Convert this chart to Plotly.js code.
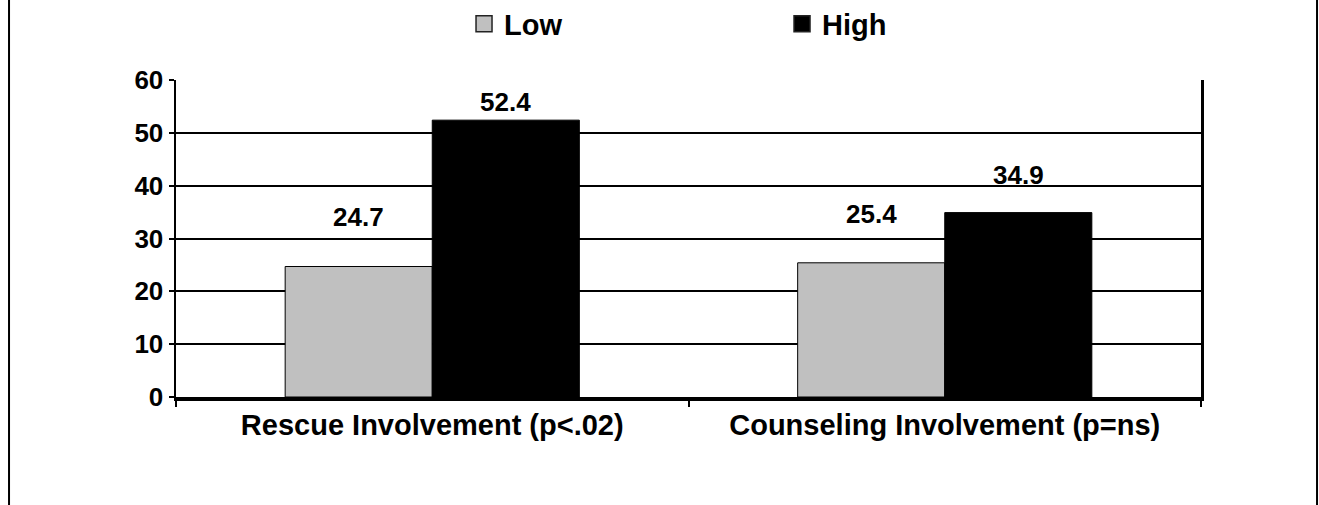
<!DOCTYPE html>
<html>
<head>
<meta charset="utf-8">
<script src="https://cdn.plot.ly/plotly-3.0.1.min.js"></script>
<style>html,body{margin:0;padding:0;background:#fff;}#chart{width:1319px;height:505px;}</style>
</head>
<body>
<div id="chart"></div>
<script>
var categories = ["Rescue Involvement (p<.02)", "Counseling Involvement (p=ns)"];
var seriesNames = ["Low", "High"];
var lowValues = [24.7, 25.4];
var highValues = [52.4, 34.9];
var seriesColors = ["#c0c0c0", "#000000"];
var yTickValues = [0, 10, 20, 30, 40, 50, 60];

var FONT = "Liberation Sans, Arial, Helvetica, sans-serif";
var BARGAP = 0.426;
var allSeries = [lowValues, highValues];

var traces = [];
allSeries.forEach(function (vals, i) {
  traces.push({type: "bar", name: seriesNames[i], x: categories, y: vals,
    marker: {color: seriesColors[i], line: {color: "#000", width: 1}},
    showlegend: false, legendgroup: seriesNames[i], hoverinfo: "skip"});
});
// legend keys (no plotted points)
allSeries.forEach(function (vals, i) {
  traces.push({type: "scatter", mode: "markers", name: seriesNames[i],
    x: [null], y: [null], legendgroup: seriesNames[i], showlegend: true,
    marker: {symbol: "square", size: 22, color: seriesColors[i], line: {color: "#222", width: 1.5}},
    hoverinfo: "skip"});
});

var annotations = [];
allSeries.forEach(function (vals, i) {
  vals.forEach(function (v, j) {
    annotations.push({
      x: j + (i === 0 ? -1 : 1) * (1 - BARGAP) / 4,
      y: v, xref: "x", yref: "y2",
      text: v.toFixed(1), showarrow: false,
      xanchor: "center", yanchor: "middle",
      font: {family: FONT, size: 26, color: "#000", weight: 700}
    });
  });
});

var layout = {
  width: 1319, height: 505,
  margin: {l: 176, r: 118, t: 80, b: 108, autoexpand: false},
  paper_bgcolor: "#fff", plot_bgcolor: "#fff",
  barmode: "group", bargap: BARGAP, bargroupgap: 0,
  showlegend: true,
  legend: {
    orientation: "h", x: 0.281, xanchor: "left", y: 1.177, yanchor: "middle",
    font: {family: FONT, size: 29, color: "#000", weight: 700},
    entrywidth: 273, entrywidthmode: "pixels", traceorder: "normal",
    itemsizing: "trace", bgcolor: "rgba(0,0,0,0)"
  },
  xaxis: {
    type: "category", categoryarray: categories, categoryorder: "array",
    showgrid: false, zeroline: false,
    showline: true, linecolor: "#000", linewidth: 3.5,
    ticks: "outside", tickson: "boundaries", ticklen: 6, tickwidth: 2, tickcolor: "#000",
    tickfont: {family: FONT, size: 29, color: "#000", weight: 700},
    fixedrange: true
  },
  yaxis: {
    range: [0, 60], tickvals: yTickValues, ticktext: yTickValues.map(String),
    showgrid: true, gridcolor: "#000", gridwidth: 2, zeroline: false,
    showline: true, linecolor: "#000", linewidth: 2.5, mirror: true,
    ticks: "outside", ticklen: 5, tickwidth: 2, tickcolor: "#000",
    tickfont: {family: FONT, size: 26, color: "#000", weight: 700},
    fixedrange: true
  },
  yaxis2: {
    overlaying: "y", range: [-18.32, 57.61], visible: false, showgrid: false,
    zeroline: false, fixedrange: true
  },
  annotations: annotations,
  shapes: [
    {type: "rect", xref: "paper", yref: "paper",
     x0: -0.1629, x1: 1.1132, y0: -1, y1: 2,
     line: {color: "#000", width: 2}, fillcolor: "rgba(0,0,0,0)", layer: "below"}
  ]
};

Plotly.newPlot("chart", traces, layout, {displayModeBar: false, staticPlot: true});
</script>
</body>
</html>
